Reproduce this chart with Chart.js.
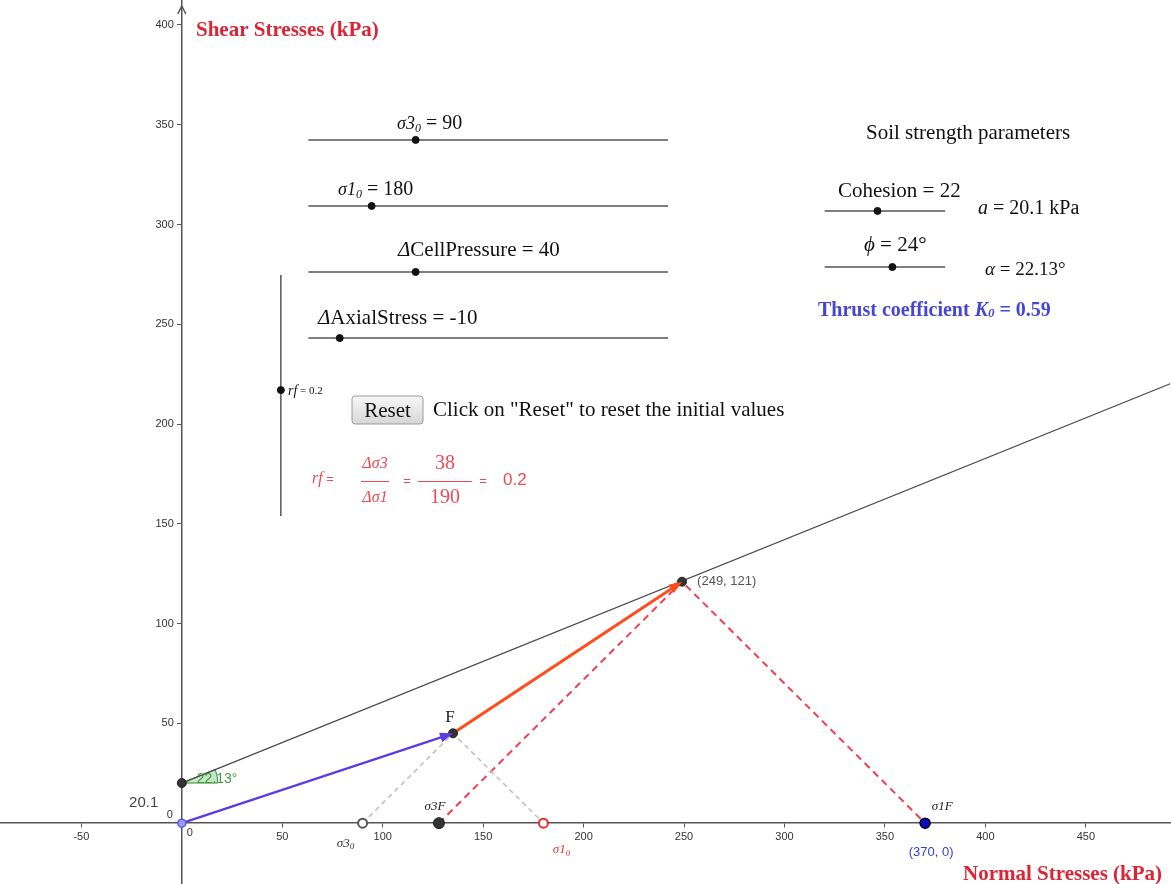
<!DOCTYPE html>
<html lang="en">
<head>
  <meta charset="UTF-8" />
  <title>Stress path - Mohr-Coulomb</title>
  <style>
    body { margin: 0; background: #fff; }
    #wrap { width: 1171px; height: 884px; position: relative; }
  </style>
</head>
<body>
  <div id="wrap"><canvas id="chart"></canvas></div>

  <script src="https://cdn.jsdelivr.net/npm/chart.js"></script>
  <script>
    // failure envelope (a = 20.1 kPa, alpha = 22.13 deg)
    const envelopeX = [0, 492];
    const envelopeY = [20.1, 220.2];

    // initial path O -> F and stress path F -> failure point
    const initialPathX = [0, 135];
    const initialPathY = [0, 45];
    const stressPathX = [135, 249];
    const stressPathY = [45, 121];

    // dashed construction lines
    const initialCircleX = [90, 135, 180];
    const initialCircleY = [0, 45, 0];
    const failureCircleX = [128, 249, 370];
    const failureCircleY = [0, 121, 0];

    // named points
    const sigma3_0 = [90, 0];
    const sigma1_0 = [180, 0];
    const sigma3F = [128, 0];
    const sigma1F = [370, 0];
    const darkPointsX = [0, 135, 249];
    const darkPointsY = [20.1, 45, 121];

    // sliders (drawn in graph units)
    const sliderStartX = [63, 63, 63, 63, 320, 320];
    const sliderEndX = [242, 242, 242, 242, 380, 380];
    const sliderY = [342.4, 309.3, 276.2, 243.1, 306.8, 278.7];
    const sliderKnobX = [116.4, 94.5, 116.4, 78.6, 346.3, 353.7];
    const rfSliderX = 49.3;
    const rfSliderY = [153.9, 274.7];
    const rfKnobY = 217;

    const xTickStep = 50;
    const yTickStep = 50;

    const serif = '"Liberation Serif", "Times New Roman", serif';
    const sans = '"Liberation Sans", Arial, sans-serif';

    function pts(xs, ys) {
      return xs.map((x, i) => ({ x: x, y: ys[i] }));
    }

    function lineSet(xs, ys, color, width, dash) {
      return {
        data: pts(xs, ys),
        showLine: true,
        borderColor: color,
        borderWidth: width,
        borderDash: dash || [],
        pointRadius: 0,
        order: 2
      };
    }

    function pointSet(xs, ys, fill, border, radius, bw) {
      return {
        data: pts(xs, ys),
        showLine: false,
        backgroundColor: fill,
        borderColor: border,
        borderWidth: bw,
        pointRadius: radius,
        order: 0
      };
    }

    const datasets = [];
    datasets.push(lineSet(envelopeX, envelopeY, '#4a4a4a', 1.3));
    datasets.push(lineSet(initialCircleX, initialCircleY, '#bdbdbd', 1.5, [5, 4]));
    datasets.push(lineSet(failureCircleX, failureCircleY, '#ef4050', 2, [7, 5]));
    const blueIdx = datasets.length;
    datasets.push(lineSet(initialPathX, initialPathY, '#5a3ce6', 2.2));
    const orangeIdx = datasets.length;
    datasets.push(lineSet(stressPathX, stressPathY, '#ff4c1c', 3));

    for (let i = 0; i < sliderY.length; i++) {
      datasets.push(lineSet([sliderStartX[i], sliderEndX[i]], [sliderY[i], sliderY[i]], '#555', 1.5));
    }
    datasets.push(lineSet([rfSliderX, rfSliderX], rfSliderY, '#555', 1.5));
    datasets.push(pointSet(sliderKnobX, sliderY, '#111', '#111', 3.5, 1));
    datasets.push(pointSet([rfSliderX], [rfKnobY], '#111', '#111', 3.5, 1));

    datasets.push(pointSet(darkPointsX, darkPointsY, '#333', '#222', 4.5, 1));
    datasets.push(pointSet([sigma3F[0]], [sigma3F[1]], '#333', '#222', 5.5, 1));
    datasets.push(pointSet([0], [0], '#9c9cff', '#5a5ae0', 4, 1.5));
    datasets.push(pointSet([sigma3_0[0]], [sigma3_0[1]], '#fff', '#555', 4.5, 2));
    datasets.push(pointSet([sigma1_0[0]], [sigma1_0[1]], '#fff', '#ee2a2a', 4.5, 2));
    datasets.push(pointSet([sigma1F[0]], [sigma1F[1]], '#0a0ac8', '#000', 5, 1.5));

    // draws a run of text pieces (main text, subscripts, italics)
    function rich(ctx, x, y, parts, color, align) {
      let total = 0;
      parts.forEach(p => { ctx.font = p.f; total += ctx.measureText(p.t).width; });
      let cx = x;
      if (align === 'center') cx = x - total / 2;
      if (align === 'right') cx = x - total;
      ctx.textAlign = 'left';
      ctx.textBaseline = 'middle';
      parts.forEach(p => {
        ctx.font = p.f;
        ctx.fillStyle = p.c || color;
        ctx.fillText(p.t, cx, y + (p.dy || 0));
        cx += ctx.measureText(p.t).width;
      });
    }

    function arrowHead(ctx, meta, color) {
      const a = meta.data[meta.data.length - 2];
      const b = meta.data[meta.data.length - 1];
      const ang = Math.atan2(b.y - a.y, b.x - a.x);
      const len = 13, half = 5;
      ctx.save();
      ctx.translate(b.x, b.y);
      ctx.rotate(ang);
      ctx.beginPath();
      ctx.moveTo(0, 0);
      ctx.lineTo(-len, -half);
      ctx.lineTo(-len, half);
      ctx.closePath();
      ctx.fillStyle = color;
      ctx.fill();
      ctx.restore();
    }

    const extras = {
      id: 'extras',
      beforeDatasetsDraw(chart) {
        const ctx = chart.ctx;
        const xs = chart.scales.x, ys = chart.scales.y;
        // angle marker at the envelope intercept
        const px = xs.getPixelForValue(envelopeX[0]);
        const py = ys.getPixelForValue(envelopeY[0]);
        const ang = Math.atan2(ys.getPixelForValue(envelopeY[1]) - py, xs.getPixelForValue(envelopeX[1]) - px);
        ctx.save();
        ctx.beginPath();
        ctx.moveTo(px, py);
        ctx.arc(px, py, 36, ang, 0);
        ctx.closePath();
        ctx.fillStyle = 'rgba(70,170,70,0.3)';
        ctx.fill();
        ctx.strokeStyle = '#2f8f2f';
        ctx.lineWidth = 1;
        ctx.stroke();
        ctx.restore();
      },
      afterDatasetsDraw(chart) {
        const ctx = chart.ctx;
        arrowHead(ctx, chart.getDatasetMeta(blueIdx), '#5a3ce6');
        arrowHead(ctx, chart.getDatasetMeta(orangeIdx), '#ff4c1c');
      },
      afterDraw(chart) {
        const ctx = chart.ctx;
        const xs = chart.scales.x, ys = chart.scales.y;
        const X = v => xs.getPixelForValue(v);
        const Y = v => ys.getPixelForValue(v);
        ctx.save();

        // y axis arrow
        const ax = X(0);
        ctx.beginPath();
        ctx.moveTo(ax, 6);
        ctx.lineTo(ax - 4, 14);
        ctx.moveTo(ax, 6);
        ctx.lineTo(ax + 4, 14);
        ctx.strokeStyle = '#555';
        ctx.lineWidth = 1.5;
        ctx.stroke();

        // y tick labels, set off to the left of the axis
        ys.ticks.forEach(t => {
          if (t.value === 0) return;
          rich(ctx, ax - 8, Y(t.value), [{ t: String(t.value), f: '11px ' + sans }], '#333', 'right');
        });

        // zero labels
        rich(ctx, X(0) + 8, Y(0) + 10, [{ t: '0', f: '11px ' + sans }], '#333', 'center');
        rich(ctx, X(0) - 12, Y(0) - 8, [{ t: '0', f: '11px ' + sans }], '#333', 'center');

        // axis titles
        const titleFont = 'bold 21px ' + serif;
        rich(ctx, 196, 31, [{ t: 'Shear Stresses (kPa)', f: titleFont }], '#dd2436');
        rich(ctx, 963, 875, [{ t: 'Normal Stresses (kPa)', f: titleFont }], '#dd2436');

        // labels near points
        const it13 = 'italic 13px ' + serif;
        const it9 = 'italic 9px ' + serif;
        rich(ctx, X(-19), Y(10), [{ t: '20.1', f: '15px ' + sans }], '#444', 'center');
        rich(ctx, X(0) + 15, Y(20.1) - 4, [{ t: '22.13°', f: '14px ' + sans }], '#3f9a3f');
        rich(ctx, X(133.5), Y(53), [{ t: 'F', f: '17px ' + serif }], '#222', 'center');
        rich(ctx, X(126), Y(8.5), [{ t: 'σ3F', f: it13 }], '#222', 'center');
        rich(ctx, X(81.5), Y(-10), [{ t: 'σ', f: it13 }, { t: '3', f: it13 }, { t: '0', f: it9, dy: 4 }], '#333', 'center');
        rich(ctx, X(189), Y(-13.5), [{ t: 'σ1', f: it13 }, { t: '0', f: it9, dy: 4 }], '#ee3333', 'center');
        rich(ctx, X(378.5), Y(8.5), [{ t: 'σ1F', f: it13 }], '#222', 'center');
        rich(ctx, X(373), Y(-14.5), [{ t: '(370, 0)', f: '13px ' + sans }], '#3a3ad8', 'center');
        rich(ctx, X(256.5), Y(121), [{ t: '(249, 121)', f: '13px ' + sans }], '#555');

        // slider captions
        const it18 = 'italic 18px ' + serif;
        const r20 = '20px ' + serif;
        const r21 = '21px ' + serif;
        rich(ctx, 397, 124, [{ t: 'σ3', f: it18 }, { t: '0', f: 'italic 12px ' + serif, dy: 5 }, { t: ' = 90', f: r20 }], '#111');
        rich(ctx, 338, 190, [{ t: 'σ1', f: it18 }, { t: '0', f: 'italic 12px ' + serif, dy: 5 }, { t: ' = 180', f: r20 }], '#111');
        rich(ctx, 398, 250, [{ t: 'Δ', f: 'italic 21px ' + serif }, { t: 'CellPressure = 40', f: r21 }], '#111');
        rich(ctx, 318, 318, [{ t: 'Δ', f: 'italic 21px ' + serif }, { t: 'AxialStress = -10', f: r21 }], '#111');
        rich(ctx, 288, 391, [{ t: 'rf', f: 'italic 14px ' + serif }, { t: ' = 0.2', f: '11px ' + serif }], '#111');

        // reset button
        const bx = 352, by = 396, bw = 71, bh = 28;
        const grad = ctx.createLinearGradient(0, by, 0, by + bh);
        grad.addColorStop(0, '#f8f8f8');
        grad.addColorStop(1, '#d6d6d6');
        ctx.beginPath();
        ctx.roundRect(bx, by, bw, bh, 3);
        ctx.fillStyle = grad;
        ctx.fill();
        ctx.strokeStyle = '#9a9a9a';
        ctx.lineWidth = 1;
        ctx.stroke();
        rich(ctx, bx + bw / 2, by + bh / 2 + 1, [{ t: 'Reset', f: r21 }], '#111', 'center');
        rich(ctx, 433, 410, [{ t: 'Click on "Reset" to reset the initial values', f: r21 }], '#111');

        // rf formula
        const red = '#ee4a55';
        const it16 = 'italic 16px ' + serif;
        rich(ctx, 312, 479, [{ t: 'rf', f: it16 }, { t: ' =', f: '13px ' + sans }], red);
        rich(ctx, 375, 464, [{ t: 'Δσ3', f: it16 }], red, 'center');
        rich(ctx, 375, 498, [{ t: 'Δσ1', f: it16 }], red, 'center');
        rich(ctx, 407, 481, [{ t: '=', f: '13px ' + sans }], red, 'center');
        rich(ctx, 445, 464, [{ t: '38', f: '20px ' + serif }], red, 'center');
        rich(ctx, 445, 498, [{ t: '190', f: '20px ' + serif }], red, 'center');
        rich(ctx, 483, 481, [{ t: '=', f: '13px ' + sans }], red, 'center');
        rich(ctx, 503, 480, [{ t: '0.2', f: '17px ' + sans }], red);
        ctx.strokeStyle = red;
        ctx.lineWidth = 1;
        ctx.beginPath();
        ctx.moveTo(361, 481.5); ctx.lineTo(389, 481.5);
        ctx.moveTo(418, 481.5); ctx.lineTo(472, 481.5);
        ctx.stroke();

        // soil parameters panel
        rich(ctx, 866, 133, [{ t: 'Soil strength parameters', f: r21 }], '#111');
        rich(ctx, 838, 191, [{ t: 'Cohesion = 22', f: r21 }], '#111');
        rich(ctx, 978, 209, [{ t: 'a', f: 'italic 20px ' + serif }, { t: ' = 20.1 kPa', f: r20 }], '#111');
        rich(ctx, 864, 245, [{ t: 'ϕ', f: 'italic 21px ' + serif }, { t: ' = 24°', f: r21 }], '#111');
        rich(ctx, 985, 270, [{ t: 'α', f: 'italic 19px ' + serif }, { t: ' = 22.13°', f: '19px ' + serif }], '#111');
        rich(ctx, 818, 311, [
          { t: 'Thrust coefficient ', f: 'bold 20px ' + serif },
          { t: 'K', f: 'bold italic 20px ' + serif },
          { t: '0', f: 'bold italic 13px ' + serif, dy: 3 },
          { t: ' = 0.59', f: 'bold 20px ' + serif }
        ], '#4646d6');

        ctx.restore();
      }
    };

    const tickFont = { family: sans, size: 11 };
    // axes cross inside the plot, so they should not pad the chart area
    const noPadding = scale => {
      scale.paddingTop = 0;
      scale.paddingBottom = 0;
      scale.paddingLeft = 0;
      scale.paddingRight = 0;
    };

    new Chart(document.getElementById('chart'), {
      type: 'scatter',
      data: { datasets: datasets },
      options: {
        responsive: true,
        maintainAspectRatio: false,
        animation: false,
        events: [],
        layout: { padding: 0, autoPadding: false },
        plugins: { legend: { display: false }, tooltip: { enabled: false } },
        scales: {
          x: {
            type: 'linear',
            position: { y: 0 },
            min: -90.5,
            max: 492.4,
            afterFit: noPadding,
            border: { color: '#555', width: 1.5 },
            grid: { drawOnChartArea: false, color: '#555', tickLength: 4 },
            ticks: {
              stepSize: xTickStep,
              includeBounds: false,
              maxRotation: 0,
              color: '#333',
              font: tickFont,
              padding: 3,
              callback: v => (v === 0 ? '' : v)
            }
          },
          y: {
            type: 'linear',
            position: { x: 0 },
            min: -30.5,
            max: 412.5,
            afterFit: noPadding,
            border: { color: '#555', width: 1.5 },
            grid: { drawOnChartArea: false, color: '#555', tickLength: 4 },
            ticks: {
              stepSize: yTickStep,
              includeBounds: false,
              color: '#333',
              font: tickFont,
              callback: () => ''
            }
          }
        }
      },
      plugins: [extras]
    });
  </script>
</body>
</html>
